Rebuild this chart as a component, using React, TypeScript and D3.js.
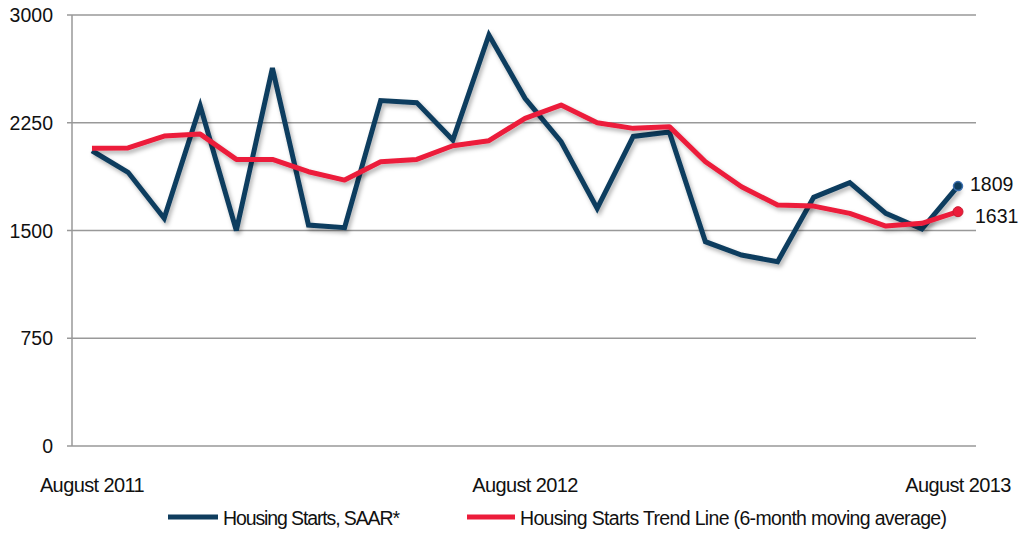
import React from "react";
import * as d3 from "d3";

const months = [
  "August 2011", "September 2011", "October 2011", "November 2011", "December 2011",
  "January 2012", "February 2012", "March 2012", "April 2012", "May 2012", "June 2012", "July 2012",
  "August 2012", "September 2012", "October 2012", "November 2012", "December 2012",
  "January 2013", "February 2013", "March 2013", "April 2013", "May 2013", "June 2013", "July 2013",
  "August 2013",
];
const starts = [
  2055, 1905, 1585, 2366, 1500, 2630, 1538, 1520, 2404, 2390, 2130, 2861,
  2420, 2118, 1654, 2155, 2185, 1422, 1329, 1283, 1731, 1833, 1619, 1510, 1809,
];
const trend = [
  2072, 2075, 2157, 2171, 1995, 1995, 1909, 1851, 1979, 1995, 2090, 2125,
  2281, 2373, 2250, 2211, 2223, 1979, 1805, 1677, 1670, 1619, 1531, 1550, 1631,
];
const yTicks = [0, 750, 1500, 2250, 3000];
const xLabelIdx = [0, 12, 24];
const seriesNames = ["Housing Starts, SAAR*", "Housing Starts Trend Line (6-month moving average)"];

const BLUE = "#0f3d5e";
const RED = "#ec1c3a";

export default function App() {
  const width = 1021;
  const height = 538;
  const x = d3.scaleLinear().domain([0, 24]).range([92, 958]);
  const y = d3.scaleLinear().domain([0, 3000]).range([446, 15]);
  const line = d3.line<number>().x((d, i) => x(i)).y(d => y(d));
  const font = "'Liberation Sans', Arial, sans-serif";

  return (
    <svg width={width} height={height} style={{ position: "absolute", left: 0, top: 0, background: "#fff" }} fontFamily={font}>
      <defs>
        <filter id="shadow" x="-10%" y="-10%" width="120%" height="130%">
          <feDropShadow dx="2" dy="3" stdDeviation="2" floodColor="#000" floodOpacity="0.3" />
        </filter>
      </defs>
      {yTicks.map(t => (
        <g key={t}>
          <line x1={67} x2={976} y1={y(t)} y2={y(t)} stroke="#999" strokeWidth={1.5} />
          <text x={53} y={y(t) + 2} textAnchor="end" dominantBaseline="middle" fontSize={19.5} fill="#111">{t}</text>
        </g>
      ))}
      <line x1={72} x2={72} y1={y(3000)} y2={y(0)} stroke="#999" strokeWidth={1.5} />
      {xLabelIdx.map(i => (
        <text key={i} x={x(i)} y={492} textAnchor="middle" fontSize={20} letterSpacing={-0.6} fill="#111">{months[i]}</text>
      ))}
      <path d={line(starts) || ""} fill="none" stroke={BLUE} strokeWidth={5} strokeLinejoin="miter" filter="url(#shadow)" />
      <path d={line(trend) || ""} fill="none" stroke={RED} strokeWidth={5} strokeLinejoin="round" filter="url(#shadow)" />
      <circle cx={x(24)} cy={y(starts[24])} r={4.5} fill={BLUE} stroke="#3b6fb0" strokeWidth={1.5} />
      <circle cx={x(24)} cy={y(trend[24])} r={5} fill={RED} stroke="#c81c32" strokeWidth={1} />
      <text x={970} y={y(starts[24])} dominantBaseline="middle" fontSize={19.5} fill="#111">{starts[24]}</text>
      <text x={975} y={y(trend[24]) + 6} dominantBaseline="middle" fontSize={19.5} fill="#111">{trend[24]}</text>
      <line x1={168} x2={218} y1={517} y2={517} stroke={BLUE} strokeWidth={5} />
      <text x={223} y={525} fontSize={19.5} textLength={177} lengthAdjust="spacing" fill="#111">{seriesNames[0]}</text>
      <line x1={467} x2={515} y1={517} y2={517} stroke={RED} strokeWidth={5} />
      <text x={520} y={525} fontSize={19.5} textLength={427} lengthAdjust="spacing" fill="#111">{seriesNames[1]}</text>
    </svg>
  );
}
